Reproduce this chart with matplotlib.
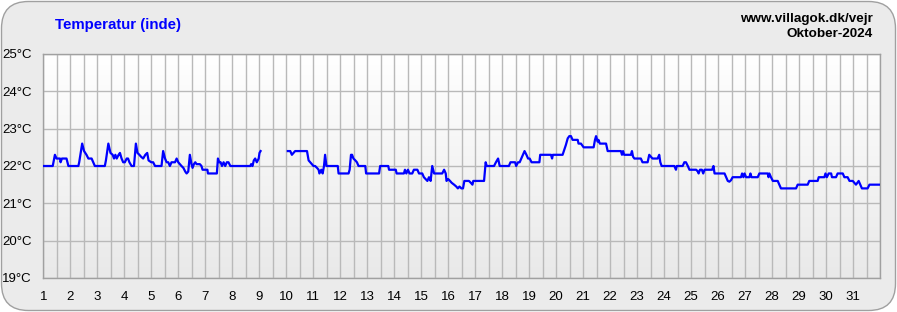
import numpy as np
import matplotlib.pyplot as plt
from matplotlib.colors import LinearSegmentedColormap
from matplotlib.patches import FancyBboxPatch

# ---------- Data ----------
# day of month (fractional) and indoor temperature in degC; nan = missing data
days = [
    1.00, 1.35, 1.43, 1.49, 1.62, 1.64, 1.69, 1.86, 1.93, 2.30, 2.33, 2.44, 2.51, 2.60, 2.67,
    2.73, 2.79, 2.85, 2.91, 3.28, 3.32, 3.41, 3.49, 3.57, 3.62, 3.67, 3.72, 3.79, 3.84, 3.90,
    3.96, 4.02, 4.09, 4.14, 4.19, 4.27, 4.36, 4.43, 4.49, 4.56, 4.62, 4.70, 4.78, 4.85, 4.90,
    5.00, 5.07, 5.14, 5.38, 5.44, 5.51, 5.57, 5.63, 5.69, 5.75, 5.88, 5.94, 6.00, 6.12, 6.19,
    6.26, 6.31, 6.37, 6.43, 6.49, 6.53, 6.58, 6.63, 6.68, 6.80, 6.86, 6.90, 7.08, 7.10, 7.43,
    7.47, 7.52, 7.57, 7.62, 7.68, 7.74, 7.80, 7.86, 7.93, 8.67, 8.70, 8.75, 8.80, 8.85, 8.91,
    8.98, 9.01, 9.05, 9.50,
    10.06, 10.15, 10.21, 10.27, 10.33, 10.77, 10.83, 10.89, 10.95, 11.01, 11.07, 11.14, 11.20,
    11.23, 11.30, 11.35, 11.40, 11.44, 11.49, 11.91, 11.94, 12.31, 12.35, 12.40, 12.44, 12.49,
    12.56, 12.62, 12.68, 12.93, 12.96, 13.44, 13.48, 13.78, 13.81, 14.06, 14.09, 14.36, 14.40,
    14.45, 14.51, 14.57, 14.67, 14.73, 14.86, 14.92, 15.04, 15.10, 15.23, 15.29, 15.35, 15.41,
    15.48, 15.78, 15.85, 15.91, 15.94, 16.00, 16.07, 16.13, 16.22, 16.30, 16.36, 16.42, 16.49,
    16.55, 16.60, 16.77, 16.84, 16.90, 16.93, 17.33, 17.39, 17.43, 17.70, 17.77, 17.85, 17.91,
    18.25, 18.31, 18.48, 18.52, 18.59, 18.65, 18.71, 18.77, 18.83, 18.90, 18.96, 19.02, 19.09,
    19.38, 19.41, 19.81, 19.85, 19.88, 20.24, 20.30, 20.36, 20.43, 20.49, 20.55, 20.61, 20.80,
    20.83, 20.92, 21.02, 21.39, 21.44, 21.48, 21.54, 21.57, 21.62, 21.85, 21.91, 22.40, 22.44,
    22.48, 22.52, 22.77, 22.81, 22.85, 22.90, 23.14, 23.20, 23.39, 23.45, 23.51, 23.57, 23.76,
    23.82, 23.86, 23.91, 24.38, 24.44, 24.47, 24.69, 24.75, 24.81, 24.88, 24.94, 25.19, 25.25,
    25.28, 25.33, 25.40, 25.45, 25.50, 25.56, 25.78, 25.83, 25.87, 26.24, 26.30, 26.36, 26.42,
    26.48, 26.54, 26.85, 26.89, 26.94, 26.98, 27.04, 27.16, 27.20, 27.24, 27.47, 27.53, 27.84,
    27.87, 27.90, 27.96, 28.03, 28.21, 28.27, 28.33, 28.89, 28.95, 29.32, 29.38, 29.69, 29.73,
    29.94, 29.98, 30.03, 30.10, 30.19, 30.22, 30.37, 30.43, 30.62, 30.68, 30.80, 30.87, 30.99,
    31.05, 31.11, 31.21, 31.27, 31.33, 31.54, 31.61, 31.98,
]
temps = [
    22.0, 22.0, 22.3, 22.2, 22.2, 22.1, 22.2, 22.2, 22.0, 22.0, 22.1, 22.6, 22.4, 22.3, 22.2,
    22.2, 22.2, 22.1, 22.0, 22.0, 22.15, 22.6, 22.35, 22.3, 22.2, 22.3, 22.2, 22.3, 22.35, 22.2,
    22.1, 22.1, 22.2, 22.2, 22.1, 22.0, 22.0, 22.6, 22.35, 22.3, 22.25, 22.2, 22.3, 22.35, 22.15,
    22.1, 22.1, 22.0, 22.0, 22.4, 22.2, 22.1, 22.1, 22.0, 22.1, 22.1, 22.2, 22.1, 22.0, 21.95,
    21.85, 21.8, 21.85, 22.3, 22.05, 21.95, 22.05, 22.1, 22.05, 22.05, 22.0, 21.9, 21.9, 21.8, 21.8,
    22.2, 22.1, 22.1, 22.0, 22.1, 22.0, 22.1, 22.1, 22.0, 22.0, 22.05, 22.0, 22.15, 22.2, 22.1,
    22.2, 22.35, 22.4, np.nan,
    22.4, 22.4, 22.3, 22.35, 22.4, 22.4, 22.15, 22.1, 22.05, 22.0, 22.0, 21.95, 21.9,
    21.8, 21.9, 21.8, 22.0, 22.3, 22.0, 22.0, 21.8, 21.8, 21.9, 22.3, 22.3, 22.2,
    22.15, 22.1, 22.0, 22.0, 21.8, 21.8, 22.0, 22.0, 21.9, 21.9, 21.8, 21.8, 21.9,
    21.8, 21.9, 21.8, 21.8, 21.9, 21.9, 21.8, 21.8, 21.7, 21.6, 21.7, 21.6, 22.0,
    21.8, 21.8, 21.9, 21.8, 21.6, 21.65, 21.6, 21.55, 21.5, 21.45, 21.4, 21.45, 21.4,
    21.4, 21.6, 21.6, 21.55, 21.5, 21.6, 21.6, 22.1, 22.0, 22.0, 22.1, 22.2, 22.0,
    22.0, 22.1, 22.1, 22.0, 22.1, 22.1, 22.2, 22.3, 22.4, 22.3, 22.2, 22.2, 22.1,
    22.1, 22.3, 22.3, 22.2, 22.3, 22.3, 22.43, 22.56, 22.74, 22.8, 22.8, 22.7, 22.7,
    22.6, 22.6, 22.5, 22.5, 22.7, 22.8, 22.65, 22.7, 22.6, 22.6, 22.4, 22.4, 22.3,
    22.4, 22.3, 22.3, 22.4, 22.25, 22.2, 22.2, 22.1, 22.1, 22.3, 22.25, 22.2, 22.2,
    22.3, 22.1, 22.0, 22.0, 21.9, 22.0, 22.0, 22.1, 22.1, 22.0, 21.9, 21.9, 21.85,
    21.8, 21.9, 21.9, 21.8, 21.9, 21.9, 21.9, 22.0, 21.8, 21.8, 21.7, 21.6, 21.58,
    21.62, 21.7, 21.7, 21.8, 21.7, 21.8, 21.7, 21.7, 21.8, 21.7, 21.7, 21.8, 21.8,
    21.7, 21.8, 21.7, 21.6, 21.6, 21.5, 21.4, 21.4, 21.5, 21.5, 21.6, 21.6, 21.7,
    21.7, 21.8, 21.7, 21.8, 21.8, 21.7, 21.7, 21.8, 21.8, 21.7, 21.7, 21.6, 21.6,
    21.55, 21.5, 21.6, 21.5, 21.4, 21.4, 21.5, 21.5,
]

y_ticks = [19, 20, 21, 22, 23, 24, 25]
y_labels = [f"{t}°C" for t in y_ticks]
x_ticks = list(range(1, 32))

title = "Temperatur (inde)"
site = "www.villagok.dk/vejr"
month = "Oktober-2024"

plt.rcParams['font.family'] = ['Liberation Sans', 'DejaVu Sans']

W, H = 897, 312
fig = plt.figure(figsize=(W / 100, H / 100), dpi=100, facecolor="white")

# rounded grey panel behind everything
panel = FancyBboxPatch((1.5 / W, 1.5 / H), (W - 3) / W, (H - 3) / H,
                       boxstyle="round,pad=0,rounding_size=0.03",
                       transform=fig.transFigure, facecolor="#ebebeb",
                       edgecolor="#a0a0a0", linewidth=1.0, mutation_aspect=W / H,
                       zorder=-10)
fig.patches.append(panel)

left, right, top, bottom = 43.3, 880, 54, 278
ax = fig.add_axes([left / W, 1 - bottom / H, (right - left) / W, (bottom - top) / H])
ax.set_zorder(1)

# white -> light grey vertical gradient inside the plot
grad = np.linspace(1.0, 0.0, 256).reshape(-1, 1)
bg_cmap = LinearSegmentedColormap.from_list("bg", ["#e9e9e9", "#ffffff"])
ax.imshow(grad, cmap=bg_cmap, aspect="auto", extent=[1, 32, 19, 25],
          origin="upper", zorder=0, vmin=0, vmax=1)

ax.plot(days, temps, color="#0000ff", linewidth=1.6, zorder=3)

ax.set_xlim(1, 32)
ax.set_ylim(19, 25)
ax.set_xticks(x_ticks)
ax.set_xticks(np.arange(1, 32.01, 0.5), minor=True)
ax.set_yticks(y_ticks)
ax.set_yticklabels(y_labels)
ax.grid(which="both", axis="x", color="#b9b9b9", linewidth=1.0, zorder=1)
ax.grid(which="major", axis="y", color="#b9b9b9", linewidth=1.0, zorder=1)
ax.tick_params(which="both", length=0)
ax.tick_params(axis="x", pad=9, labelsize=9.5, colors="black")
ax.tick_params(axis="y", pad=0, labelsize=9.5)
for lab in ax.get_yticklabels():
    lab.set_horizontalalignment("left")
    lab.set_x(-41 / (right - left))
for sp in ax.spines.values():
    sp.set_color("#a0a0a0")
    sp.set_linewidth(1.0)

fig.text(55 / W, 1 - 25 / H, title, color="#0000ff", fontsize=10.8, fontweight="bold",
         ha="left", va="center")
fig.text(873 / W, 1 - 19 / H, site, color="black", fontsize=9.7, fontweight="bold",
         ha="right", va="center")
fig.text(873 / W, 1 - 34 / H, month, color="black", fontsize=9.7, fontweight="bold",
         ha="right", va="center")

fig.savefig("out.png", dpi=100, facecolor="white")
